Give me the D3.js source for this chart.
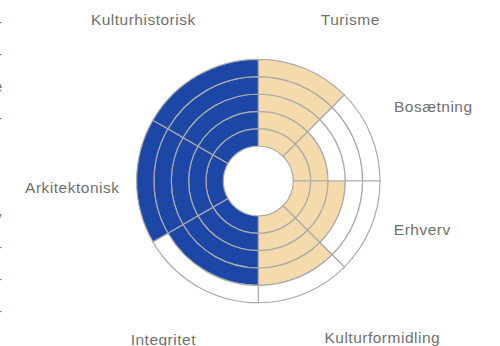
<!DOCTYPE html>
<html>
<head>
<meta charset="utf-8">
<script src="https://cdn.jsdelivr.net/npm/d3@7"></script>
<style>
  html, body { margin: 0; padding: 0; background: #fff; }
  svg { display: block; }
  text { font-family: "Liberation Sans", Arial, sans-serif; }
</style>
</head>
<body>
<svg id="chart" width="500" height="346"></svg>
<script>
// Categories in clockwise order starting at 12 o'clock
const categories = ["Turisme", "Bosætning", "Erhverv", "Kulturformidling", "Integritet", "Arkitektonisk", "Kulturhistorisk"];
// Score per category on a 0–5 scale
const values = [5, 2, 3, 4, 4, 5, 5];
// Each group shares one half of the circle
const groups = ["udvikling", "udvikling", "udvikling", "udvikling", "bevaring", "bevaring", "bevaring"];
const groupNames = ["udvikling", "bevaring"];
const levels = [1, 2, 3, 4, 5];

// Layout
const width = 500, height = 346;
const cx = 258.3, cy = 181;
const innerR = 35, outerR = 121.7;
const groupColors = { udvikling: "#f5dbab", bevaring: "#1c47a6" };
const gridColor = "#ababab";
const labelColor = "#707070";
// Label anchor offsets (baseline centre) from the chart centre
const labelOffsets = [[92, -156], [175, -69], [164, 53.5], [124, 162], [-95, 163.5], [-186, 12], [-115, -156]];

const svg = d3.select("#chart");

// Cut-off text fragments along the left margin
const marginMarks = [
  { t: "-", y: 27 }, { t: "-", y: 59 }, { t: "e", y: 92 }, { t: "-", y: 123 },
  { t: "y", y: 222 }, { t: "-", y: 252 }, { t: "-", y: 284 }, { t: "-", y: 316 }
];
svg.append("g").selectAll("text").data(marginMarks).join("text")
  .attr("x", d => d.t === "-" ? -3 : -6)
  .attr("y", d => d.y)
  .attr("font-size", 15)
  .attr("fill", labelColor)
  .text(d => d.t);

// Angular layout: each group spans half the circle, split evenly among its members
const sectors = [];
{
  let start = 0;
  categories.forEach((c, i) => {
    const n = groups.filter(g => g === groups[i]).length;
    const span = Math.PI / n;
    sectors.push({ name: c, value: values[i], group: groups[i], start, end: start + span, index: i });
    start += span;
  });
}

const r = d3.scaleLinear().domain([0, 5]).range([innerR, outerR]);

const arc = d3.arc();
const g = svg.append("g").attr("transform", `translate(${cx},${cy})`);

// One cell per sector and level, filled when the score reaches that level
const cells = [];
sectors.forEach(s => levels.forEach(l => cells.push({ s, l })));

g.selectAll("path.cell").data(cells).join("path")
  .attr("class", "cell")
  .attr("d", d => arc({ innerRadius: r(d.l - 1), outerRadius: r(d.l), startAngle: d.s.start, endAngle: d.s.end }))
  .attr("fill", d => d.l <= d.s.value ? groupColors[d.s.group] : "#fff")
  .attr("stroke", gridColor)
  .attr("stroke-width", 1.2);

// Category labels
g.selectAll("text.label").data(sectors).join("text")
  .attr("class", "label")
  .attr("x", d => labelOffsets[d.index][0])
  .attr("y", d => labelOffsets[d.index][1])
  .attr("text-anchor", "middle")
  .attr("font-size", 15.5)
  .attr("letter-spacing", 0.5)
  .attr("fill", labelColor)
  .text(d => d.name);
</script>
</body>
</html>
